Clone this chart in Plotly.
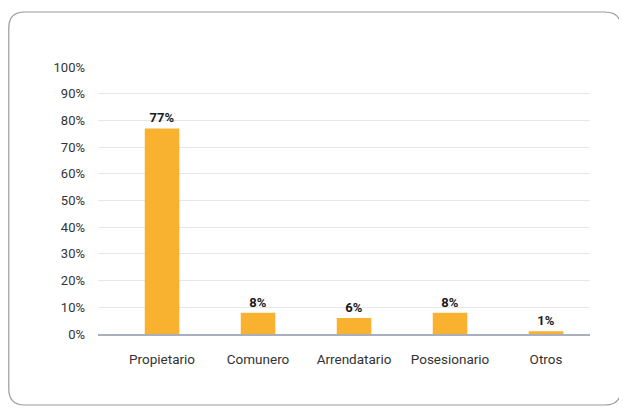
import plotly.graph_objects as go

categories = ["Propietario", "Comunero", "Arrendatario", "Posesionario", "Otros"]
values = [77, 8, 6, 8, 1]
labels = ["77%", "8%", "6%", "8%", "1%"]
y_ticks = list(range(0, 101, 10))
y_tick_text = [f"{v}%" for v in y_ticks]

# page body has an 8px margin, so the figure is drawn slightly smaller
W, H = 619, 404
L, R, T, B = 90, 37, 59, 78
pw, ph = W - L - R, H - T - B

def px(x):
    return (x - L) / pw

def py(y):
    return (H - B - y) / ph

x0, x1, y0, y1, r = 0.8, 613, 4, 397, 16
path = (f"M {px(x0+r)},{py(y0)} L {px(x1-r)},{py(y0)} "
        f"Q {px(x1)},{py(y0)} {px(x1)},{py(y0+r)} "
        f"L {px(x1)},{py(y1-r)} Q {px(x1)},{py(y1)} {px(x1-r)},{py(y1)} "
        f"L {px(x0+r)},{py(y1)} Q {px(x0)},{py(y1)} {px(x0)},{py(y1-r)} "
        f"L {px(x0)},{py(y0+r)} Q {px(x0)},{py(y0)} {px(x0+r)},{py(y0)} Z")

font_family = "Liberation Sans Narrow, Arial Narrow, Roboto, sans-serif"

fig = go.Figure(go.Bar(
    x=categories, y=values, text=labels, textposition="outside",
    width=0.36,
    textfont=dict(family=font_family, size=13, color="#1A1A1A", weight="bold"),
    marker=dict(color="#F9B22F", line=dict(width=0)),
    cliponaxis=False,
))

fig.update_layout(
    width=W, height=H,
    margin=dict(l=L, r=R, t=T, b=B),
    paper_bgcolor="white", plot_bgcolor="white",
    showlegend=False,
    font=dict(family=font_family, size=12, color="#333333"),
    xaxis=dict(range=[-0.667, 4.458], showgrid=False, showline=True,
               linecolor="#A9AFBC", linewidth=1.5,
               ticks="", tickfont=dict(size=13.5, color="#333333"), ticklabelstandoff=12),
    yaxis=dict(range=[0, 100], tickvals=y_ticks, ticktext=y_tick_text,
               showgrid=True, gridcolor="#E6E6E6", gridwidth=1, zeroline=False,
               ticks="", tickfont=dict(size=13, color="#333333"), ticklabelstandoff=12),
    shapes=[dict(type="path", path=path, xref="paper", yref="paper",
                 line=dict(color="#9A9A9A", width=1.2), layer="below")],
)

fig.write_html("out.html")
